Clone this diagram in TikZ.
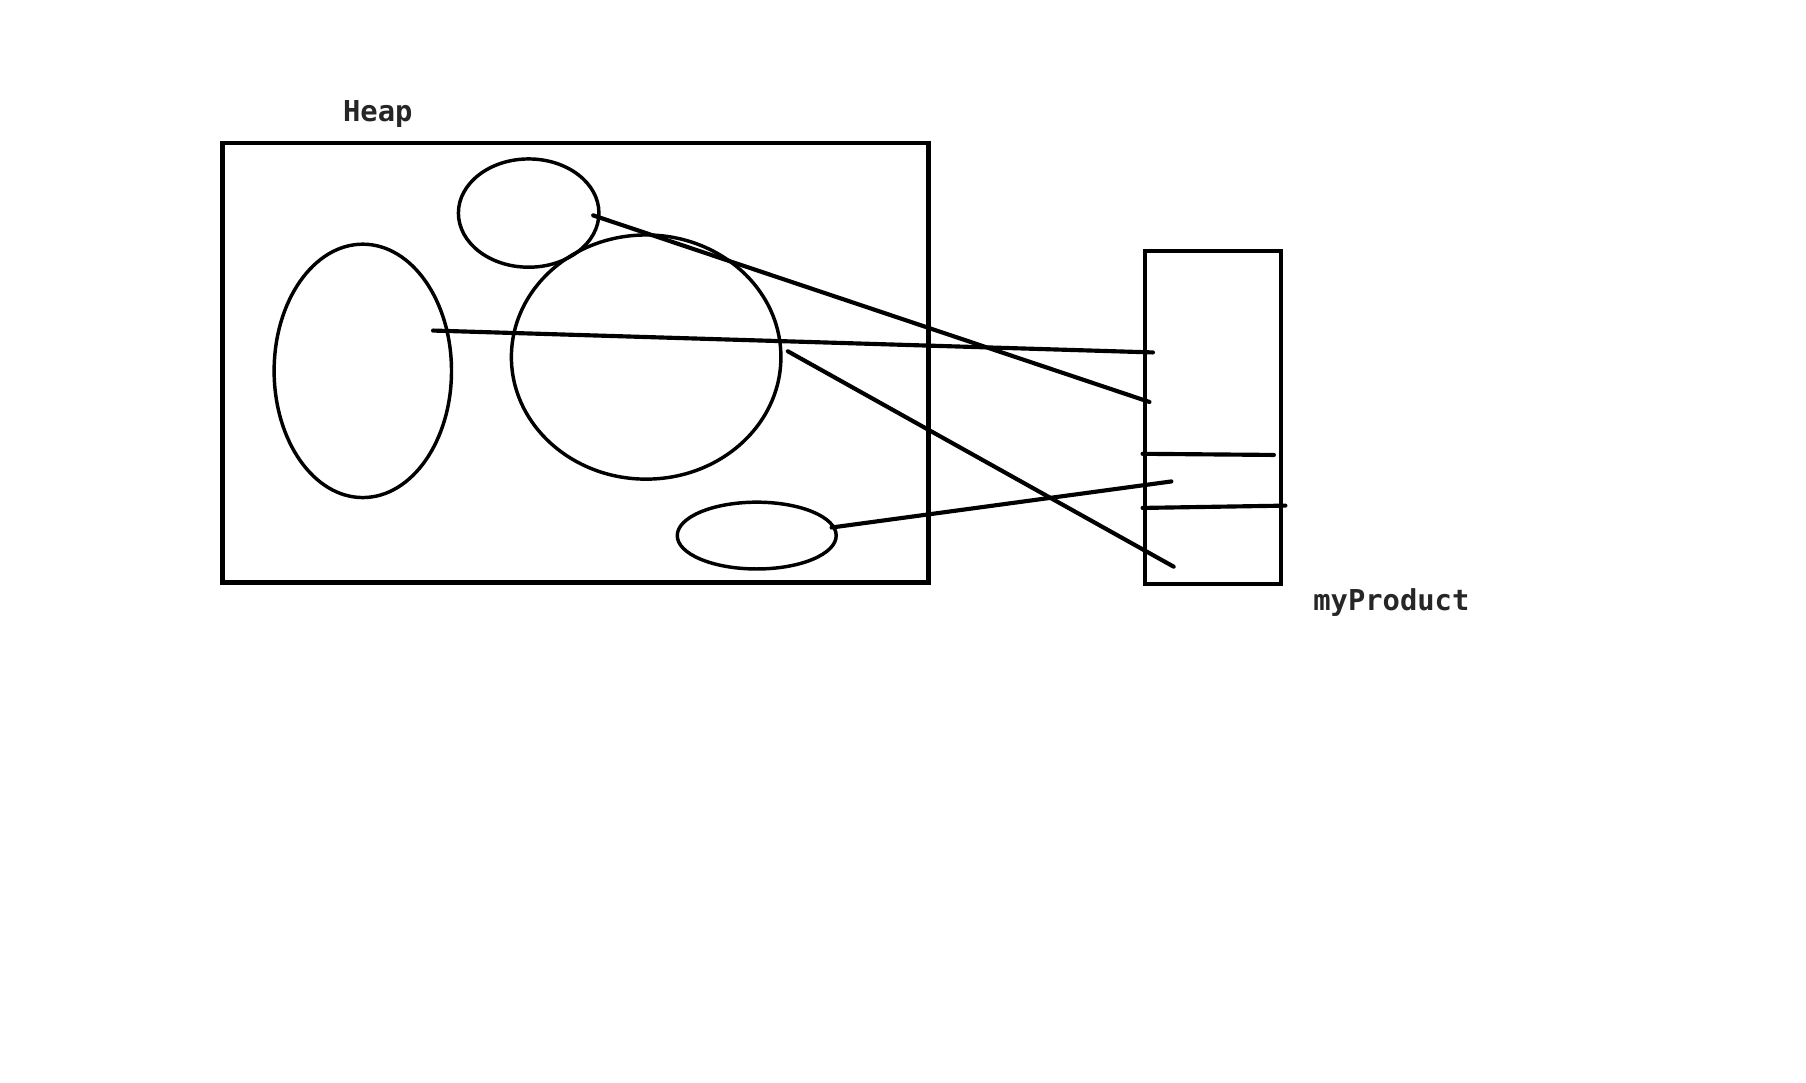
\documentclass[tikz,border=0pt]{standalone}
\usepackage{fontspec}
\setmonofont{DejaVu Sans Mono}
\usetikzlibrary{shapes.geometric}
\begin{document}
\begin{tikzpicture}[x=0.5pt,y=-0.5pt,
  box/.style={draw=black,line width=2pt,rectangle,inner sep=0pt},
  blob/.style={draw=black,line width=1.5pt,ellipse,inner sep=0pt},
  link/.style={draw=black,line width=1.8pt,line cap=round},
  lbl/.style={text=black!85,font=\fontsize{12.5pt}{14pt}\selectfont\ttfamily\bfseries,inner sep=0pt}]
\useasboundingbox[fill=white] (0,0) rectangle (1568,940);
% heap
\node[box,minimum width=306.5pt,minimum height=191pt] (heap) at (499.5,315) {};
\node[lbl] (heaplbl) at (328,99) {Heap};
% ellipses
\node[blob,minimum width=61pt,minimum height=47pt] (top) at (459,185) {};
\node[blob,minimum width=77pt,minimum height=110pt] (left) at (315,322) {};
\node[blob,minimum width=117pt,minimum height=106pt] (big) at (561,310) {};
\node[blob,minimum width=69pt,minimum height=29pt] (bot) at (657,465) {};
% myProduct
\node[box,minimum width=59pt,minimum height=144.5pt] (prod) at (1053,362.5) {};
\node[lbl] (prodlbl) at (1208,523) {myProduct};
% coordinates
\coordinate (l1) at (376,287);
\coordinate (r1) at (1001,306);
\coordinate (l2) at (515,187);
\coordinate (r2) at (998,349);
\coordinate (l3) at (684,305);
\coordinate (r3) at (1019,492);
\coordinate (l4) at (722,458);
\coordinate (r4) at (1017,418);
\coordinate (d1a) at (992,394);
\coordinate (d1b) at (1106,395);
\coordinate (d2a) at (992,441);
\coordinate (d2b) at (1116,439);
% links
\draw[link] (l1) -- (r1);
\draw[link] (l2) -- (r2);
\draw[link] (l3) -- (r3);
\draw[link] (l4) -- (r4);
\draw[link] (d1a) -- (d1b);
\draw[link] (d2a) -- (d2b);
\end{tikzpicture}
\end{document}
